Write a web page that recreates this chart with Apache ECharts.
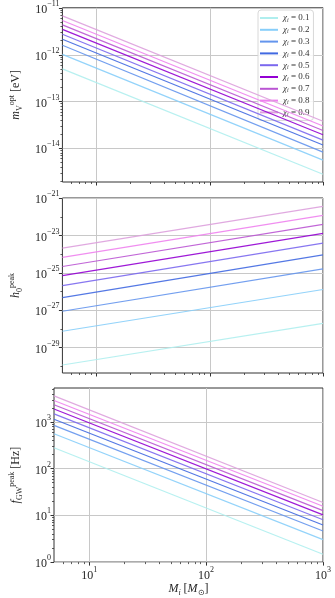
<!DOCTYPE html>
<html><head><meta charset="utf-8">
<script src="https://cdn.jsdelivr.net/npm/echarts@6/dist/echarts.min.js"></script>
<style>html,body{margin:0;padding:0;background:#fff}#c{width:335px;height:598px}</style>
</head><body><div id="c"></div>
<script>
// ---- data ----
const chiValues = ['0.1','0.2','0.3','0.4','0.5','0.6','0.7','0.8','0.9'];
const massEnds = [5, 1000];               // M_i [M_sun] at the plotted ends
// m_V^opt [eV] at M=5 and M=1000
const mOpt = [
  [5.0e-13, 2.8e-15], [1.02e-12, 5.6e-15], [1.6e-12, 8.3e-15], [2.15e-12, 1.18e-14],
  [2.75e-12, 1.5e-14], [3.5e-12, 1.95e-14], [4.35e-12, 2.4e-14], [5.4e-12, 3.0e-14], [6.8e-12, 3.8e-14]
];
// h_0^peak at M=5 and M=1000
const hPeak = [
  [1.2e-30, 2.0e-28], [7.6e-29, 1.3e-26], [8.9e-28, 1.66e-25], [4.8e-27, 9.3e-25],
  [2.1e-26, 3.9e-24], [7.1e-26, 1.3e-23], [2.2e-25, 3.9e-23], [6.8e-25, 1.18e-22], [2.1e-24, 3.6e-22]
];
// f_GW^peak [Hz] at M=5 and M=1000
const fPeak = [
  [280, 1.46], [560, 3.0], [850, 4.6], [1150, 6.2], [1500, 8.0],
  [1900, 10.2], [2350, 12.6], [2900, 15.6], [3650, 18.8]
];
const colors = ['#afeeee','#87cefa','#6495ed','#4169e1','#7b68ee','#9400d3','#ba55d3','#ee82ee','#dda0dd'];
const xMajorTicks = [10, 100, 1000];
const yTicksTop = [1e-14, 1e-13, 1e-12, 1e-11];
const yTicksMid = [1e-29, 1e-27, 1e-25, 1e-23, 1e-21];
const yTicksBot = [1, 10, 100, 1000];
const xRange = [5, 1000];
const yRangeTop = [Math.pow(10,-14.72), 1.01e-11];
const yRangeMid = [Math.pow(10,-30.35), 1.01e-21];
const yRangeBot = [0.99, Math.pow(10,3.73)];
// Display unit per panel (ECharts' log axis rounds tiny values, so very small
// quantities are expressed in a unit; labels are converted back to true powers of ten).
const unitExp = [0, -30, 0];

// ---- helpers ----
const FONT = 'Liberation Serif';
function minorLog(lo, hi) {
  const out = [];
  for (let e = Math.floor(Math.log10(lo)); e <= Math.ceil(Math.log10(hi)); e++) {
    for (let k = 2; k <= 9; k++) { const v = k * Math.pow(10, e); if (v > lo * 1.0001 && v < hi * 0.9999) out.push(v); }
  }
  return out;
}
function decades(lo, hi) {
  const out = [];
  for (let e = Math.ceil(Math.log10(lo)); e <= Math.floor(Math.log10(hi)); e++) out.push(Math.pow(10, e));
  return out;
}
const U = e => Math.pow(10, -e);         // multiply a true value by U(unitExp) to get display value
function makeLabel(uExp) {
  return function (v) {
    const e = Math.round(Math.log10(v)) + uExp;
    return '{b|10}{s|' + String(e).replace('-', '\u2212') + '}';
  };
}
const labelRich = {
  b: { fontFamily: FONT, fontSize: 12, lineHeight: 16, verticalAlign: 'bottom', color: '#262626' },
  s: { fontFamily: FONT, fontSize: 8, lineHeight: 7, verticalAlign: 'top', color: '#262626' }
};
const nameRich = {
  it: { fontFamily: FONT, fontStyle: 'italic', fontSize: 12, lineHeight: 16, verticalAlign: 'middle', color: '#262626' },
  r: { fontFamily: FONT, fontSize: 12, lineHeight: 16, verticalAlign: 'middle', color: '#262626' },
  sub: { fontFamily: FONT, fontSize: 8, lineHeight: 8, verticalAlign: 'bottom', color: '#262626' },
  subi: { fontFamily: FONT, fontStyle: 'italic', fontSize: 8, lineHeight: 8, verticalAlign: 'bottom', color: '#262626' },
  sup: { fontFamily: FONT, fontSize: 8, lineHeight: 8, verticalAlign: 'top', color: '#262626' }
};

const grids = [
  { left: 52, right: 12, top: 7, height: 175 },
  { left: 52, right: 12, top: 198, height: 175 },
  { left: 52, right: 12, top: 388, height: 175 }
].map(g => Object.assign(g, { show: true, borderColor: '#333', borderWidth: 1, backgroundColor: 'transparent' }));

const yRanges = [yRangeTop, yRangeMid, yRangeBot].map((r, i) => [r[0] * U(unitExp[i]), r[1] * U(unitExp[i])]);
const yTicks = [yTicksTop, yTicksMid, yTicksBot].map((t, i) => t.map(v => Math.pow(10, Math.round(Math.log10(v)) - unitExp[i])));
const yMinor = [
  minorLog(yRanges[0][0], yRanges[0][1]),
  decades(yRanges[1][0], yRanges[1][1]).filter(v => !yTicks[1].some(t => Math.abs(Math.log10(t) - Math.log10(v)) < 1e-6)),
  minorLog(yRanges[2][0], yRanges[2][1])
];
const yNames = [
  '{it|m}{sub|V}{sup|opt}{r| [eV]}',
  '{it|h}{sub|0}{sup|peak}',
  '{it|f}{sub|GW}{sup|peak}{r| [Hz]}'
];
const xMinor = minorLog(xRange[0], xRange[1]);

const xAxes = [], yAxes = [];
for (let i = 0; i < 3; i++) {
  xAxes.push({
    type: 'log', gridIndex: i, min: xRange[0], max: xRange[1],
    axisLine: { show: false },
    axisTick: { show: true, length: 3.5, customValues: xMajorTicks, lineStyle: { color: '#333', width: 1 } },
    axisLabel: { show: i === 2, customValues: xMajorTicks, formatter: makeLabel(0), rich: labelRich, margin: 4 },
    splitLine: { show: true, lineStyle: { color: '#c8c8c8', width: 1 } },
    minorTick: { show: false }, minorSplitLine: { show: false },
    name: i === 2 ? '{it|M}{subi|i}{r| [}{it|M}{sub|\u2299}{r|]}' : '',
    nameLocation: 'middle', nameGap: 13, nameTextStyle: { rich: nameRich }
  });
  yAxes.push({
    type: 'log', gridIndex: i, min: yRanges[i][0], max: yRanges[i][1],
    axisLine: { show: false },
    axisTick: { show: true, length: 3.5, customValues: yTicks[i], lineStyle: { color: '#333', width: 1 } },
    axisLabel: { show: true, customValues: yTicks[i], formatter: makeLabel(unitExp[i]), rich: labelRich, margin: 3 },
    splitLine: { show: true, lineStyle: { color: '#c8c8c8', width: 1 } },
    minorTick: { show: false }, minorSplitLine: { show: false },
    name: yNames[i], nameLocation: 'middle', nameRotate: 90, nameGap: 30,
    nameTextStyle: { rich: nameRich }
  });
}
// minor tick axes
for (let i = 0; i < 3; i++) {
  xAxes.push({
    type: 'log', gridIndex: i, min: xRange[0], max: xRange[1], position: 'bottom',
    axisLine: { show: false },
    axisTick: { show: true, length: 2, customValues: xMinor, lineStyle: { color: '#333', width: 0.8 } },
    axisLabel: { show: false }, splitLine: { show: false }
  });
  yAxes.push({
    type: 'log', gridIndex: i, min: yRanges[i][0], max: yRanges[i][1], position: 'left',
    axisLine: { show: false },
    axisTick: { show: true, length: 2, customValues: yMinor[i], lineStyle: { color: '#333', width: 0.8 } },
    axisLabel: { show: false }, splitLine: { show: false }
  });
}

const panels = [mOpt, hPeak, fPeak];
const series = [];
panels.forEach((vals, p) => {
  const u = U(unitExp[p]);
  vals.forEach((pair, k) => {
    series.push({
      type: 'line', name: chiValues[k], xAxisIndex: p, yAxisIndex: p,
      data: [[massEnds[0], pair[0] * u], [massEnds[1], pair[1] * u]],
      showSymbol: false, symbol: 'none', silent: true,
      color: colors[k],
      lineStyle: { color: colors[k], width: 1.2, opacity: 0.9 },
      z: 3 + k
    });
  });
});

const chart = echarts.init(document.getElementById('c'), null, { renderer: 'canvas' });
chart.setOption({
  animation: false,
  backgroundColor: '#fff',
  grid: grids,
  xAxis: xAxes,
  yAxis: yAxes,
  legend: {
    data: chiValues, orient: 'vertical', left: 258, top: 10,
    backgroundColor: 'rgba(255,255,255,0.85)', borderColor: '#d8d8d8', borderWidth: 1, borderRadius: 3,
    padding: [3, 4, 3, 2], itemWidth: 18, itemHeight: 2, itemGap: 1.8, icon: 'rect',
    selectedMode: false,
    formatter: n => '{g|\u03c7}{s|i}{t| = ' + n + '}',
    textStyle: {
      color: '#333', fontFamily: FONT, fontSize: 9, lineHeight: 10,
      rich: {
        g: { fontFamily: FONT, fontStyle: 'italic', fontSize: 9, lineHeight: 10, color: '#333' },
        s: { fontFamily: FONT, fontStyle: 'italic', fontSize: 6, lineHeight: 6, verticalAlign: 'bottom', color: '#333' },
        t: { fontFamily: FONT, fontSize: 9, lineHeight: 10, color: '#333' }
      }
    }
  },
  series: series
});
</script>
</body></html>
